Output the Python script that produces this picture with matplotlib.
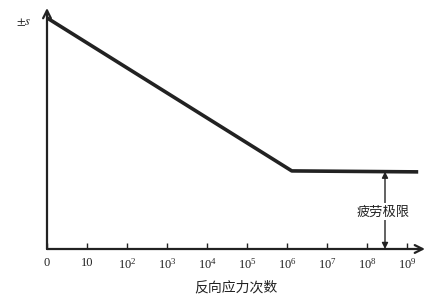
import matplotlib
matplotlib.use("Agg")
import matplotlib.pyplot as plt

plt.rcParams['mathtext.fontset'] = 'stix'
plt.rcParams['font.family'] = ['Liberation Serif', 'DejaVu Serif']

# S-N curve: x = log10(cycles), y = stress (relative units)
curve_x = [0.0, 6.12, 9.28]
curve_y = [95.9, 32.4, 32.0]
tick_pos = [0, 1, 2, 3, 4, 5, 6, 7, 8, 9]
tick_labels = ['0', '10'] + [r'$\mathregular{10^{%d}}$' % k for k in range(2, 10)]
limit_x = 8.45
limit_y = 32.1

fig = plt.figure(figsize=(4.46, 3.02), dpi=100)
ax = fig.add_axes([47 / 446, 53 / 302, 378 / 446, 241 / 302])
ax.set_xlim(0, 9.45)
ax.set_ylim(0, 100)
for s in ax.spines.values():
    s.set_visible(False)

# axes with arrow heads
ax.annotate('', xy=(1.0, 0), xytext=(0, 0), xycoords='axes fraction',
            arrowprops=dict(arrowstyle='->', lw=1.6, color='#222222',
                            mutation_scale=14, shrinkA=0, shrinkB=0),
            annotation_clip=False)
ax.annotate('', xy=(0, 1.0), xytext=(0, 0), xycoords='axes fraction',
            arrowprops=dict(arrowstyle='->', lw=1.6, color='#222222',
                            mutation_scale=14, shrinkA=0, shrinkB=0),
            annotation_clip=False)

ax.plot(curve_x, curve_y, color='#222222', lw=2.6, solid_capstyle='butt')

# fatigue limit double arrow
ax.annotate('', xy=(limit_x, limit_y), xytext=(limit_x, 0),
            arrowprops=dict(arrowstyle='<|-|>', lw=1.0, color='#222222',
                            mutation_scale=9, shrinkA=0, shrinkB=0))
ax.text(limit_x - 0.05, 15.4, '疲劳极限', family=['Noto Sans CJK SC'], fontsize=9.5,
        ha='center', va='center', color='#222222',
        bbox=dict(facecolor='white', edgecolor='none', pad=1.5))

ax.set_xticks(tick_pos)
ax.set_xticklabels(tick_labels, fontsize=9)
ax.tick_params(axis='x', direction='in', length=4, width=1.0, pad=6, colors='#222222')
ax.set_yticks([])
ax.text(-0.4, 94, r'$\pm s$', fontsize=9, ha='right', va='center', color='#222222')

ax.set_xlabel('反向应力次数', family=['Noto Sans CJK SC'], fontsize=10, labelpad=6,
              color='#222222')

fig.savefig('out.png', dpi=100)
